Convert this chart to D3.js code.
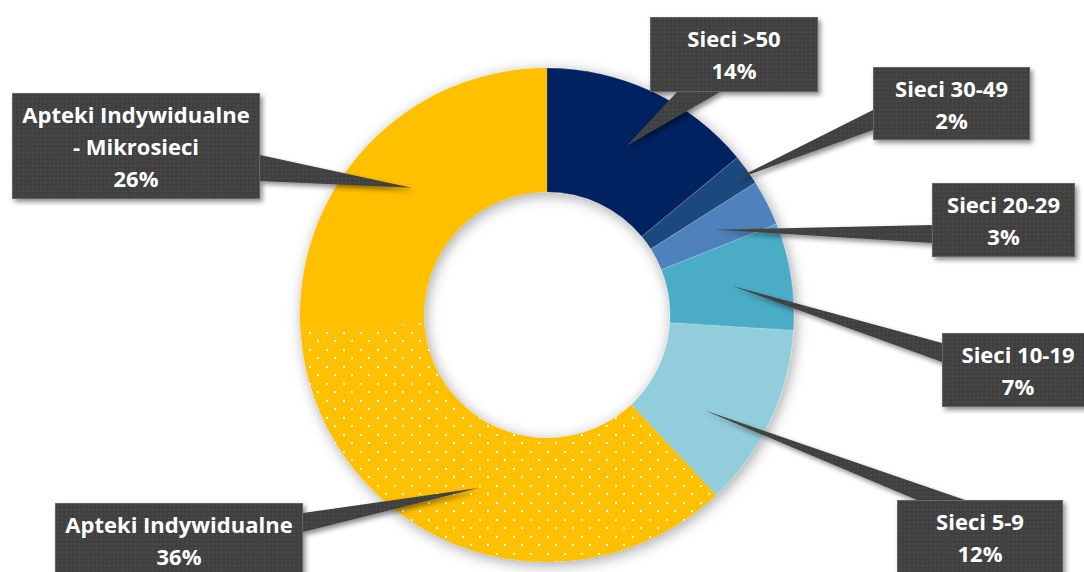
<!DOCTYPE html>
<html><head><meta charset="utf-8">
<script src="https://cdn.jsdelivr.net/npm/d3@7"></script>
<style>body{margin:0;background:#fff;} svg{display:block}</style>
</head><body>
<svg id="chart" width="1084" height="572"></svg>
<script>
// ---- data ----
const categories = ["Sieci >50","Sieci 30-49","Sieci 20-29","Sieci 10-19","Sieci 5-9","Apteki Indywidualne","Apteki Indywidualne - Mikrosieci"];
const values = [14, 2, 3, 7, 12, 36, 26];
const labelLines = [["Sieci >50"],["Sieci 30-49"],["Sieci 20-29"],["Sieci 10-19"],["Sieci 5-9"],["Apteki Indywidualne"],["Apteki Indywidualne","- Mikrosieci"]];
const colors = ["#002060","#1F497D","#4F81BD","#4BACC6","#92CDDC","#FFC000","#FFC000"];
const dotted = [false,false,false,false,false,true,false];

// ---- layout ----
const cx = 547, cy = 315, R = 247, r = 123;
const boxes = [
  {x:650, y:17,  w:168, h:75,  side:"bottom", b0:677, b1:720, tipR:187, dA:0},
  {x:873, y:67,  w:157, h:73,  side:"left",   b0:110, b1:130, tipR:228, dA:0},
  {x:932, y:183, w:143, h:74,  side:"left",   b0:225, b1:243, tipR:188, dA:0},
  {x:942, y:333, w:150, h:74,  side:"left",   b0:343, b1:362, tipR:187, dA:0},
  {x:897, y:500, w:166, h:90,  side:"top",    b0:917, b1:965, tipR:184, dA:6},
  {x:55,  y:503, w:248, h:90,  side:"right",  b0:513, b1:532, tipR:186, dA:0},
  {x:12,  y:93,  w:248, h:106, side:"right",  b0:155, b1:181, tipR:186, dA:0}
];

const svg = d3.select("#chart");
const defs = svg.append("defs");

const dots = defs.append("pattern").attr("id","dots").attr("patternUnits","userSpaceOnUse")
  .attr("width",17).attr("height",17);
dots.append("rect").attr("width",17).attr("height",17).attr("fill","#FFC000");
dots.append("rect").attr("x",0).attr("y",0).attr("width",2).attr("height",2).attr("fill","#fff");
dots.append("rect").attr("x",8).attr("y",8).attr("width",2).attr("height",2).attr("fill","#fff");

const boxPat = defs.append("pattern").attr("id","boxpat").attr("patternUnits","userSpaceOnUse")
  .attr("width",4.3).attr("height",4.3);
boxPat.append("rect").attr("width",4.3).attr("height",4.3).attr("fill","#404040");
boxPat.append("rect").attr("x",1.5).attr("y",1.5).attr("width",1.3).attr("height",1.3).attr("fill","#575757");

const sh = defs.append("filter").attr("id","ringShadow").attr("x","-20%").attr("y","-20%").attr("width","140%").attr("height","140%");
sh.append("feDropShadow").attr("dx",2).attr("dy",3).attr("stdDeviation",7).attr("flood-color","#000").attr("flood-opacity",0.35);

const sh2 = defs.append("filter").attr("id","boxShadow").attr("x","-20%").attr("y","-20%").attr("width","140%").attr("height","140%");
sh2.append("feDropShadow").attr("dx",2.5).attr("dy",3).attr("stdDeviation",2.5).attr("flood-color","#000").attr("flood-opacity",0.45);

const pie = d3.pie().sort(null).value(d => d).startAngle(0).endAngle(2*Math.PI);
const arcs = pie(values);
const arc = d3.arc().innerRadius(r).outerRadius(R);

const ring = svg.append("g").attr("transform",`translate(${cx},${cy})`).attr("filter","url(#ringShadow)");
ring.selectAll("path").data(arcs).join("path")
  .attr("d", arc)
  .attr("fill", (d,i) => dotted[i] ? "url(#dots)" : colors[i])
  .attr("stroke", (d,i) => i >= 5 ? "none" : "rgba(255,255,255,0.3)").attr("stroke-width",0.6);

// callouts
const callouts = svg.append("g");
arcs.forEach((a,i) => {
  const b = boxes[i];
  const ang = (a.startAngle + a.endAngle)/2 + b.dA*Math.PI/180;
  const tip = [cx + b.tipR*Math.sin(ang), cy - b.tipR*Math.cos(ang)];
  const x0=b.x, y0=b.y, x1=b.x+b.w, y1=b.y+b.h;
  let pts;
  if (b.side==="top") pts=[[x0,y0],[b.b0,y0],tip,[b.b1,y0],[x1,y0],[x1,y1],[x0,y1]];
  else if (b.side==="right") pts=[[x0,y0],[x1,y0],[x1,b.b0],tip,[x1,b.b1],[x1,y1],[x0,y1]];
  else if (b.side==="bottom") pts=[[x0,y0],[x1,y0],[x1,y1],[b.b1,y1],tip,[b.b0,y1],[x0,y1]];
  else pts=[[x0,y0],[x1,y0],[x1,y1],[x0,y1],[x0,b.b1],tip,[x0,b.b0]];
  const g = callouts.append("g");
  g.append("path").attr("d", d3.line()(pts)+"Z")
    .attr("fill","url(#boxpat)").attr("filter","url(#boxShadow)");
  g.append("rect").attr("x",x0+0.4).attr("y",y0+0.4).attr("width",b.w-0.8).attr("height",b.h-0.8)
    .attr("fill","none").attr("stroke","#6e6e6e").attr("stroke-width",0.8);
  const lines = labelLines[i].concat([values[i] + "%"]);
  const t = g.append("text").attr("fill","#fff").attr("text-anchor","middle")
    .attr("font-family","'Open Sans', sans-serif").attr("font-weight",700).attr("font-size",22);
  const tx = i===3 ? 1018 : (x0+x1)/2;
  lines.forEach((ln,k) => {
    t.append("tspan").attr("x", tx).attr("y", y0 + 30 + k*32).text(ln);
  });
});
</script>
</body></html>
